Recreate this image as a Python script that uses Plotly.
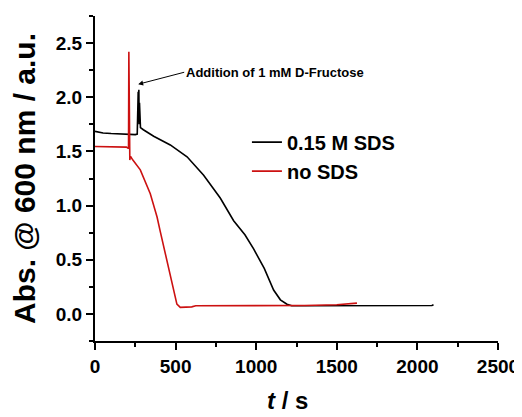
import plotly.graph_objects as go

black_t = [0, 50, 100, 150, 200, 250, 262, 264, 266, 268, 270, 272, 274, 276, 278, 282, 300, 364, 467, 571, 674, 777, 860, 930, 984, 1050, 1108, 1150, 1191, 1220, 1300, 1500, 1800, 2000, 2090, 2100]
black_y = [1.685, 1.67, 1.665, 1.66, 1.658, 1.655, 1.66, 2.03, 1.75, 2.05, 1.8, 2.07, 1.75, 1.95, 1.72, 1.72, 1.70, 1.64, 1.56, 1.45, 1.28, 1.07, 0.86, 0.73, 0.60, 0.42, 0.22, 0.13, 0.09, 0.075, 0.075, 0.075, 0.075, 0.075, 0.078, 0.085]

red_t = [0, 100, 195, 205, 208, 210, 212, 214, 216, 218, 222, 235, 281, 343, 385, 405, 467, 508, 529, 560, 600, 625, 700, 1000, 1300, 1500, 1560, 1600, 1625]
red_y = [1.545, 1.545, 1.54, 1.53, 1.53, 2.42, 1.6, 2.27, 1.42, 1.45, 1.45, 1.42, 1.33, 1.11, 0.895, 0.76, 0.37, 0.09, 0.06, 0.06, 0.065, 0.075, 0.075, 0.075, 0.078, 0.085, 0.09, 0.10, 0.10]

series_names = ["0.15 M SDS", "no SDS"]
annotation_text = "Addition of 1 mM D-Fructose"
x_title = "<i>t</i> / s"
y_title = "Abs. @ 600 nm / a.u."

FONT = "Arial, Liberation Sans, sans-serif"

fig = go.Figure()
fig.add_trace(go.Scatter(x=black_t, y=black_y, mode="lines", name=series_names[0],
                         line=dict(color="#000000", width=1.6)))
fig.add_trace(go.Scatter(x=red_t, y=red_y, mode="lines", name=series_names[1],
                         line=dict(color="#cc1111", width=1.6)))

fig.add_annotation(x=268, y=2.12, xref="x", yref="y", text=annotation_text,
                   showarrow=True, arrowhead=2, arrowsize=1, arrowwidth=1,
                   arrowcolor="#000", ax=46, ay=-12, xanchor="left",
                   font=dict(family=FONT, size=13, color="#000", weight="bold"))

# x-axis title placed as a paper annotation so it can sit slightly left of centre
fig.add_annotation(x=0.478, y=-0.183, xref="paper", yref="paper", text=x_title,
                   showarrow=False, xanchor="center", yanchor="middle",
                   font=dict(family=FONT, size=24, color="#000", weight="bold"))

axis_common = dict(showline=True, linecolor="#000", linewidth=2, ticks="outside",
                   ticklen=7, tickwidth=2, tickcolor="#000", showgrid=False, zeroline=False,
                   mirror=False, automargin=False,
                   tickfont=dict(family=FONT, size=19, color="#000", weight="bold"))

fig.update_xaxes(range=[0, 2500], dtick=500, tick0=0,
                 minor=dict(dtick=250, ticks="outside", ticklen=4, tickwidth=1.5, tickcolor="#000", showgrid=False),
                 **axis_common)
fig.update_yaxes(range=[-0.25, 2.75], dtick=0.5, tick0=0, tickformat=".1f",
                 minor=dict(dtick=0.25, ticks="outside", ticklen=4, tickwidth=1.5, tickcolor="#000", showgrid=False),
                 title=dict(text=y_title, font=dict(family=FONT, size=30, color="#000", weight="bold"), standoff=19),
                 **axis_common)

# page body adds an 8px margin, so the figure is sized to fill the remaining window
fig.update_layout(width=514, height=409, margin=dict(l=87, r=24, t=8, b=76),
                  plot_bgcolor="#fff", paper_bgcolor="#fff",
                  showlegend=True,
                  legend=dict(x=0.377, y=0.672, xanchor="left", yanchor="top",
                              bgcolor="rgba(0,0,0,0)", borderwidth=0,
                              font=dict(family=FONT, size=20, color="#000", weight="bold"),
                              tracegroupgap=0, itemwidth=30))

fig.write_html("out.html")
